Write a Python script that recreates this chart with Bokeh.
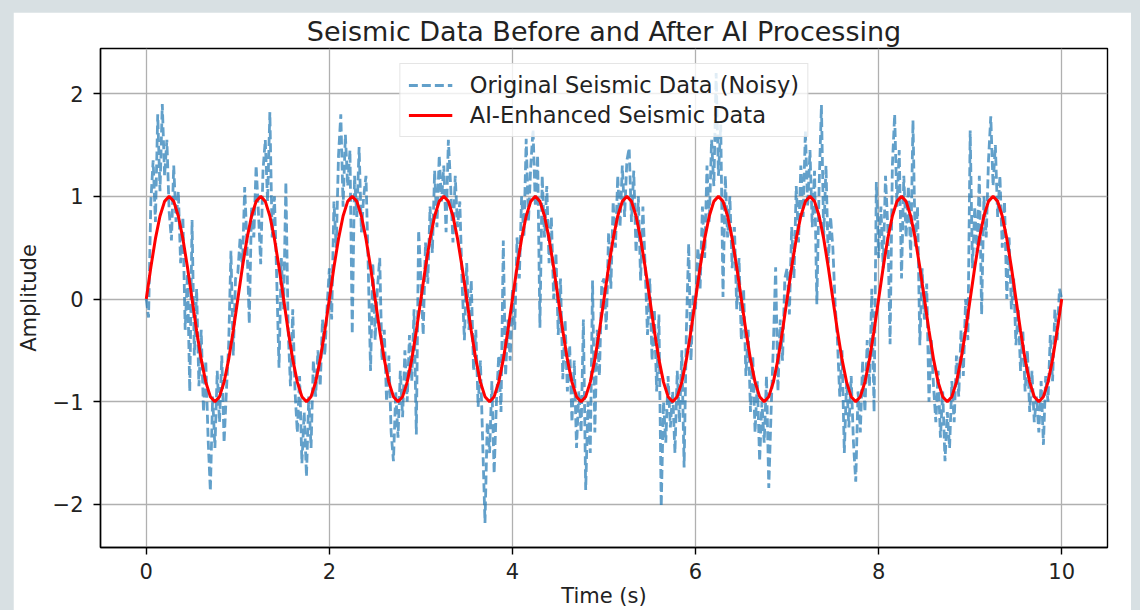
import numpy as np
from bokeh.plotting import figure
from bokeh.models import Range1d, FixedTicker, Legend, LegendItem
from bokeh.embed import file_html
from bokeh.resources import INLINE

# ---------------- data ----------------
title_text = "Seismic Data Before and After AI Processing"
x_label = "Time (s)"
y_label = "Amplitude"
series_names = ["Original Seismic Data (Noisy)", "AI-Enhanced Seismic Data"]
x_ticks = [0, 2, 4, 6, 8, 10]
y_ticks = [-2, -1, 0, 1, 2]
y_tick_labels = ["\u22122", "\u22121", "0", "1", "2"]

noisy_s0 = [0.0, -0.18, 0.95, 1.35, 0.75, 1.8, 1.05, 1.9, 1.2, 1.55, 0.85, 0.57, 1.3, 0.75, 1.05, 0.35, 0.8, -0.3, 0.25, -0.9,
            0.77, -0.55, 0.1, -0.85, -0.3, -1.1, -0.6, -1.35, -1.87, -0.95, -1.45, -0.7, -1.2, -0.55, -1.4, -0.9, -0.45, 0.47, -0.55, 0.2]
noisy_s1 = [0.25, 0.6, 0.3, 1.09, 0.55, -0.24, 0.9, 0.6, 1.3, 0.85, 0.34, 1.25, 1.55, 0.95, 1.82, 0.6, 1.0, 0.2, -0.67, 0.4,
            -0.1, 1.14, -0.3, -0.85, -0.1, -0.9, -1.3, -0.75, -1.6, -1.1, -1.73, -0.95, -1.45, -0.6, -0.95, -0.5, -0.85, -0.2, -0.55, -0.08]
noisy_s2 = [0.3, -0.2, 0.95, 0.5, 1.4, 1.8, 0.9, 1.6, 1.1, 1.45, -0.34, 1.2, 0.8, 1.48, 0.65, 1.0, 1.2, 0.3, -0.7, 0.35,
            -0.4, 0.1, 0.4, -0.6, -0.3, -1.0, -0.55, -1.3, -1.58, -0.9, -1.35, -0.7, -1.15, -0.5, -1.0, -0.35, -0.8, -0.1, -1.32, 0.67]
noisy_s3 = [0.2, -0.35, 0.55, 0.15, 0.9, 0.45, 1.25, 0.7, 1.4, 0.95, 1.3, 0.65, 1.55, 1.1, 0.55, 1.2, 0.7, 0.95, 0.15, -0.4,
            0.35, -0.3, 0.18, -0.7, -0.3, -1.05, -0.6, -1.4, -2.18, -1.2, -1.5, -0.8, -1.7, -1.0, -0.55, -1.1, 0.57, -0.75, -0.2, -0.6]
noisy_s4 = [0.1, -0.3, 0.6, 0.2, 1.0, 0.6, 1.56, 0.75, 1.3, 1.65, 0.9, 1.4, -0.28, 1.2, 0.6, 1.1, 0.35, 0.8, 0.0, 0.45,
            -0.35, 0.2, -0.78, -0.2, -0.9, -0.45, -1.2, -0.6, -1.45, -0.9, -1.3, -0.2, -1.86, -1.0, -1.5, 0.18, -1.3, -0.3, -0.75, 0.15]
noisy_s5 = [0.2, -0.3, 0.65, 0.1, 0.95, 0.5, 1.2, 0.7, 1.3, 0.8, 1.35, 1.47, 0.75, 1.25, 0.45, 1.0, 0.18, 0.9, 0.3, -0.35,
            0.2, -0.6, -0.1, -0.9, -0.15, -2.02, -1.0, -1.4, -0.75, -1.25, -0.9, -1.5, -0.7, -1.2, -0.5, -1.64, -0.3, 0.54, -0.6, 0.05]
noisy_s6 = [-0.1, 0.5, 0.1, 0.9, 0.4, 1.3, 0.75, 1.55, 1.1, 2.2, 1.2, 1.7, 0.02, 1.2, 0.6, 1.0, 0.3, 0.7, -0.1, 0.4,
            -0.4, 0.1, -0.75, -0.3, -1.1, -0.55, -1.3, -0.8, -1.58, -1.0, -1.4, -0.75, -1.84, -1.1, -0.45, 0.31, -0.9, -0.2, -0.6, 0.2]
noisy_s7 = [0.3, -0.15, 0.7, 0.2, 1.1, 0.55, 1.3, 0.8, 1.64, 0.9, 1.45, 0.7, 1.25, -0.05, 1.1, 1.89, 0.6, 1.3, 0.35, 0.8,
            0.5, -0.05, -0.4, -0.95, -0.5, -1.5, -0.8, -1.25, -0.75, -1.4, -1.78, -0.9, -1.3, -0.6, -1.1, -0.4, -0.85, 0.1, -1.1, 1.14]
noisy_s8 = [0.4, 0.9, 0.3, 1.2, 0.7, -0.44, 1.3, 1.8, 0.9, 1.45, 0.2, 1.2, 0.6, 1.1, 0.4, 1.74, 0.5, 0.9, -0.45, 0.3,
            -0.2, 0.15, -1.0, -0.4, -0.85, -1.2, -0.7, -1.35, -0.9, -1.58, -1.1, -1.45, -0.8, -1.2, -0.55, -0.95, -0.3, -0.75, 0.0, -0.4]
noisy_s9 = [1.64, 0.3, 0.9, 0.45, 1.2, -0.15, 1.0, 0.6, 1.35, 1.78, 1.1, 1.5, 0.8, 1.2, 0.5, 0.95, 0.0, 0.6, -0.1, 0.2,
            -0.45, -0.1, -0.7, -0.3, -0.9, -0.5, -1.1, -0.7, -1.2, -0.95, -1.3, -0.8, -1.42, -0.75, -1.0, -0.35, -0.8, -0.1, -0.4, 0.1, 0.0]

clean_s0 = [0.0, 0.309, 0.588, 0.809, 0.951, 1.0, 0.951, 0.809, 0.588, 0.309, 0.0, -0.309, -0.588, -0.809, -0.951, -1.0, -0.951, -0.809, -0.588, -0.309]
clean_s1 = [0.0, 0.309, 0.588, 0.809, 0.951, 1.0, 0.951, 0.809, 0.588, 0.309, 0.0, -0.309, -0.588, -0.809, -0.951, -1.0, -0.951, -0.809, -0.588, -0.309]
clean_s2 = [0.0, 0.309, 0.588, 0.809, 0.951, 1.0, 0.951, 0.809, 0.588, 0.309, 0.0, -0.309, -0.588, -0.809, -0.951, -1.0, -0.951, -0.809, -0.588, -0.309]
clean_s3 = [0.0, 0.309, 0.588, 0.809, 0.951, 1.0, 0.951, 0.809, 0.588, 0.309, 0.0, -0.309, -0.588, -0.809, -0.951, -1.0, -0.951, -0.809, -0.588, -0.309]
clean_s4 = [0.0, 0.309, 0.588, 0.809, 0.951, 1.0, 0.951, 0.809, 0.588, 0.309, 0.0, -0.309, -0.588, -0.809, -0.951, -1.0, -0.951, -0.809, -0.588, -0.309]
clean_s5 = [0.0, 0.309, 0.588, 0.809, 0.951, 1.0, 0.951, 0.809, 0.588, 0.309, 0.0, -0.309, -0.588, -0.809, -0.951, -1.0, -0.951, -0.809, -0.588, -0.309]
clean_s6 = [0.0, 0.309, 0.588, 0.809, 0.951, 1.0, 0.951, 0.809, 0.588, 0.309, 0.0, -0.309, -0.588, -0.809, -0.951, -1.0, -0.951, -0.809, -0.588, -0.309]
clean_s7 = [0.0, 0.309, 0.588, 0.809, 0.951, 1.0, 0.951, 0.809, 0.588, 0.309, 0.0, -0.309, -0.588, -0.809, -0.951, -1.0, -0.951, -0.809, -0.588, -0.309]
clean_s8 = [0.0, 0.309, 0.588, 0.809, 0.951, 1.0, 0.951, 0.809, 0.588, 0.309, 0.0, -0.309, -0.588, -0.809, -0.951, -1.0, -0.951, -0.809, -0.588, -0.309]
clean_s9 = [0.0, 0.309, 0.588, 0.809, 0.951, 1.0, 0.951, 0.809, 0.588, 0.309, 0.0, -0.309, -0.588, -0.809, -0.951, -1.0, -0.951, -0.809, -0.588, -0.309, 0.0]

amp_noisy = (noisy_s0 + noisy_s1 + noisy_s2 + noisy_s3 + noisy_s4 +
             noisy_s5 + noisy_s6 + noisy_s7 + noisy_s8 + noisy_s9)
amp_clean = (clean_s0 + clean_s1 + clean_s2 + clean_s3 + clean_s4 +
             clean_s5 + clean_s6 + clean_s7 + clean_s8 + clean_s9)
time_noisy = np.linspace(0, 10, len(amp_noisy))
time_clean = np.linspace(0, 10, len(amp_clean))

# ---------------- figure ----------------
FONT = "DejaVu Sans"
TXT = "#222222"

p = figure(width=1118, height=598, output_backend="svg", toolbar_location=None,
           x_range=Range1d(-0.5, 10.5), y_range=Range1d(-2.42, 2.44),
           min_border_left=87, min_border_right=24, min_border_top=36, min_border_bottom=63,
           background_fill_color="white", border_fill_color="white", title=title_text)

p.title.align = "center"
p.title.text_font = FONT
p.title.text_font_size = "27px"
p.title.text_font_style = "normal"
p.title.text_color = TXT
p.title.standoff = 3

p.outline_line_color = "black"
p.outline_line_width = 1.4
p.outline_line_alpha = 1.0

p.xaxis.ticker = FixedTicker(ticks=x_ticks)
p.yaxis.ticker = FixedTicker(ticks=y_ticks)
p.yaxis.major_label_overrides = {t: lab for t, lab in zip(y_ticks, y_tick_labels)}
p.xaxis.axis_label = x_label
p.yaxis.axis_label = y_label

for ax in (p.xaxis[0], p.yaxis[0]):
    ax.major_label_text_font = FONT
    ax.major_label_text_font_size = "21px"
    ax.major_label_text_color = TXT
    ax.axis_label_text_font = FONT
    ax.axis_label_text_font_size = "21px"
    ax.axis_label_text_font_style = "normal"
    ax.axis_label_text_color = TXT
    ax.major_tick_out = 7
    ax.major_tick_in = 0
    ax.minor_tick_out = 0
    ax.minor_tick_in = 0
    ax.major_tick_line_width = 1.4
    ax.major_tick_line_color = "black"
    ax.axis_line_width = 1.4
    ax.axis_line_color = "black"

p.xaxis.major_label_standoff = 8
p.yaxis.major_label_standoff = 10
p.xaxis.axis_label_standoff = 2
p.yaxis.axis_label_standoff = 9

p.grid.grid_line_color = "#b0b0b0"
p.grid.grid_line_width = 1.3

r_noisy = p.line(time_noisy, amp_noisy, line_color="#1f77b4", line_alpha=0.7,
                 line_width=2.8, line_dash="9 4")
r_clean = p.line(time_clean, amp_clean, line_color="red", line_width=3.0)

legend = Legend(items=[LegendItem(label=series_names[0], renderers=[r_noisy]),
                       LegendItem(label=series_names[1], renderers=[r_clean])],
                location="top_center")
legend.label_text_font = FONT
legend.label_text_font_size = "22.5px"
legend.label_text_color = TXT
legend.border_line_color = "#cccccc"
legend.border_line_width = 1
legend.background_fill_color = "white"
legend.background_fill_alpha = 0.8
legend.glyph_width = 44
legend.glyph_height = 24
legend.label_standoff = 18
legend.padding = 8
legend.spacing = 4
legend.margin = 15
p.add_layout(legend)

html = file_html(p, INLINE, title="Seismic Data")
style = ("<style>html,body{background:#d8e0e3;overflow:hidden;}"
         "body{margin:12px 0 0 13px;}</style></head>")
html = html.replace("</head>", style, 1)
open("out.html", "w").write(html)
